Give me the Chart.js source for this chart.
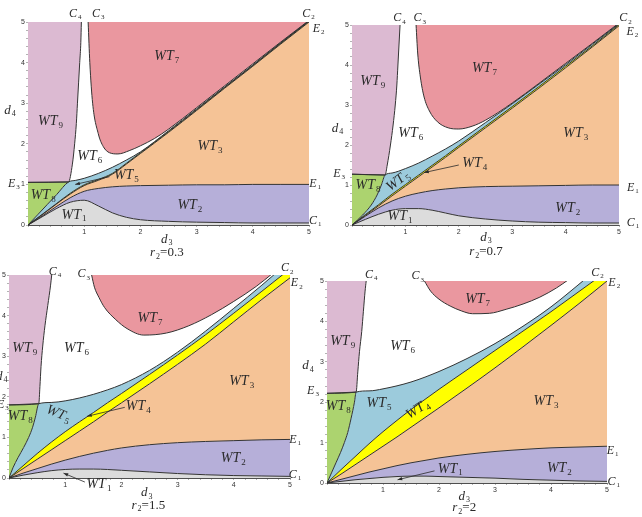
<!DOCTYPE html>
<html>
<head>
<meta charset="utf-8">
<script src="https://cdn.jsdelivr.net/npm/chart.js@4.4.1/dist/chart.umd.min.js"></script>
<style>
  body { margin: 0; background: #fff; }
  #wrap { position: relative; width: 642px; height: 517px; background: #fff; overflow: hidden; }
  canvas { position: absolute; }
</style>
</head>
<body>
<div id="wrap">
  <canvas id="p03" width="330" height="260" style="left:0;top:0"></canvas>
  <canvas id="p07" width="321" height="260" style="left:321px;top:0"></canvas>
  <canvas id="p15" width="321" height="259" style="left:0;top:258px"></canvas>
  <canvas id="p2" width="347" height="259" style="left:295px;top:258px"></canvas>
</div>
<script>
// d3 sample points shared by the curves that are functions of d3
const d3Grid = [0, 0.25, 0.5, 0.75, 1, 1.25, 1.5, 1.75, 2, 2.5, 3, 3.5, 4, 4.5, 5];

// ---- r2 = 0.3 ----
const c1_03 = [0, 0.2, 0.4, 0.56, 0.61, 0.47, 0.3, 0.19, 0.13, 0.09, 0.07, 0.06, 0.05, 0.05, 0.05];
const e1_03 = [0, 0.22, 0.45, 0.67, 0.83, 0.9, 0.94, 0.96, 0.97, 0.98, 0.99, 0.99, 1.0, 1.0, 1.0];
const e2_03 = [0, 0.25, 0.51, 0.76, 0.97, 1.1, 1.25, 1.5, 1.76, 2.28, 2.82, 3.37, 3.91, 4.46, 5];
const c2_03 = [0, 0.26, 0.52, 0.78, 0.99, 1.12, 1.27, 1.52, 1.78, 2.3, 2.84, 3.39, 3.93, 4.48, 5.02];
const c5x_03 = [0.72, 0.85, 1, 1.25, 1.5, 1.75, 2, 2.5, 3, 3.5, 4, 4.5, 5];
const c5_03 = [1.06, 1.1, 1.15, 1.27, 1.42, 1.6, 1.8, 2.32, 2.86, 3.4, 3.94, 4.49, 5.03];
const c3x_03 = [1.07, 1.1, 1.15, 1.25, 1.34, 1.45, 1.6, 1.8, 2, 2.25, 2.5, 3, 3.5, 4, 4.5, 5];
const c3_03 = [5, 4, 3, 2.25, 1.93, 1.78, 1.75, 1.83, 1.95, 2.13, 2.36, 2.89, 3.43, 3.97, 4.51, 5.04];
const c4d4_03 = [0, 0.25, 0.5, 0.75, 1.06, 1.5, 2, 2.5, 3, 3.5, 4, 4.5, 5];
const c4d3_03 = [0, 0.17, 0.34, 0.51, 0.72, 0.79, 0.83, 0.86, 0.88, 0.9, 0.92, 0.94, 0.95];
const e3x_03 = [0, 0.72];
const e3_03 = [1.05, 1.06];

// ---- r2 = 0.7 ----
const c1_07 = [0, 0.14, 0.27, 0.37, 0.41, 0.41, 0.37, 0.3, 0.23, 0.15, 0.1, 0.07, 0.06, 0.05, 0.05];
const e1_07 = [0, 0.22, 0.43, 0.6, 0.72, 0.8, 0.86, 0.9, 0.93, 0.96, 0.97, 0.98, 0.99, 1.0, 1.0];
const e2_07 = [0, 0.24, 0.48, 0.73, 0.97, 1.21, 1.45, 1.69, 1.94, 2.43, 2.92, 3.42, 3.93, 4.45, 4.98];
const c2_07 = [0, 0.26, 0.51, 0.77, 1.01, 1.25, 1.49, 1.73, 1.98, 2.47, 2.96, 3.46, 3.97, 4.48, 5.01];
const c5x_07 = [0.62, 0.75, 1, 1.25, 1.5, 1.75, 2, 2.5, 3, 3.5, 4, 4.5, 5];
const c5_07 = [1.25, 1.3, 1.41, 1.55, 1.72, 1.9, 2.1, 2.56, 3.03, 3.52, 4.01, 4.52, 5.03];
const c3x_07 = [1.2, 1.23, 1.28, 1.35, 1.45, 1.6, 1.8, 2, 2.25, 2.5, 3, 3.5, 4, 4.5, 5];
const c3_07 = [5, 4.3, 3.7, 3.2, 2.85, 2.58, 2.43, 2.4, 2.47, 2.62, 3.05, 3.54, 4.04, 4.54, 5.05];
const c4d4_07 = [0, 0.25, 0.5, 0.75, 1, 1.25, 1.5, 2, 2.5, 3, 3.5, 4, 4.5, 5];
const c4d3_07 = [0, 0.2, 0.36, 0.47, 0.55, 0.62, 0.66, 0.72, 0.77, 0.81, 0.84, 0.86, 0.88, 0.9];
const e3x_07 = [0, 0.62];
const e3_07 = [1.27, 1.25];

// ---- r2 = 1.5 ----
const c1_15 = [0, 0.07, 0.13, 0.18, 0.21, 0.22, 0.22, 0.21, 0.19, 0.15, 0.11, 0.08, 0.06, 0.05, 0.04];
const e1_15 = [0, 0.12, 0.23, 0.34, 0.44, 0.53, 0.61, 0.68, 0.74, 0.82, 0.87, 0.9, 0.92, 0.94, 0.95];
const e2_15 = [0, 0.23, 0.46, 0.69, 0.92, 1.15, 1.38, 1.62, 1.85, 2.32, 2.8, 3.3, 3.85, 4.4, 4.93];
const c2_15 = [0, 0.3, 0.6, 0.88, 1.14, 1.38, 1.61, 1.85, 2.08, 2.55, 3.03, 3.53, 4.06, 4.6, 5.15];
const c5x_15 = [0.53, 0.75, 1, 1.25, 1.5, 1.75, 2, 2.5, 3, 3.5, 4, 4.5, 5];
const c5_15 = [1.83, 1.86, 1.9, 1.97, 2.06, 2.17, 2.3, 2.65, 3.1, 3.62, 4.18, 4.75, 5.35];
const c3x_15 = [1.47, 1.52, 1.6, 1.7, 1.9, 2.1, 2.4, 2.8, 3.2, 3.6, 4.0, 4.4, 4.7];
const c3_15 = [5, 4.7, 4.45, 4.2, 3.9, 3.68, 3.52, 3.57, 3.75, 4.02, 4.35, 4.72, 5.05];
const c4d4_15 = [0, 0.25, 0.5, 0.75, 1, 1.25, 1.5, 1.83, 2.25, 2.75, 3.25, 3.75, 4.25, 4.75, 5];
const c4d3_15 = [0, 0.07, 0.16, 0.26, 0.35, 0.42, 0.47, 0.53, 0.55, 0.57, 0.6, 0.64, 0.69, 0.74, 0.76];
const e3x_15 = [0, 0.53];
const e3_15 = [1.8, 1.83];

// ---- r2 = 2 ----
const c1_2 = [0, 0.04, 0.08, 0.11, 0.14, 0.16, 0.17, 0.17, 0.16, 0.14, 0.12, 0.09, 0.07, 0.05, 0.04];
const e1_2 = [0, 0.09, 0.18, 0.27, 0.35, 0.43, 0.5, 0.56, 0.62, 0.71, 0.78, 0.83, 0.87, 0.89, 0.91];
const e2_2 = [0, 0.22, 0.45, 0.68, 0.91, 1.14, 1.38, 1.62, 1.86, 2.35, 2.85, 3.37, 3.9, 4.44, 5.0];
const c2_2 = [0, 0.33, 0.65, 0.97, 1.27, 1.55, 1.82, 2.07, 2.32, 2.8, 3.28, 3.76, 4.24, 4.74, 5.24];
const c5x_2 = [0.52, 0.75, 1, 1.5, 2, 2.5, 3, 3.5, 4, 4.5, 5];
const c5_2 = [2.25, 2.28, 2.33, 2.5, 2.76, 3.08, 3.45, 3.88, 4.36, 4.92, 5.5];
const c3x_2 = [1.74, 1.85, 2.0, 2.2, 2.4, 2.6, 2.9, 3.2, 3.5, 3.8, 4.1, 4.3];
const c3_2 = [5, 4.75, 4.55, 4.38, 4.26, 4.19, 4.2, 4.3, 4.43, 4.6, 4.83, 5.02];
const c4d4_2 = [0, 0.25, 0.5, 0.75, 1, 1.25, 1.6, 2, 2.25, 2.75, 3.25, 3.75, 4.25, 4.75, 5];
const c4d3_2 = [0, 0.08, 0.16, 0.24, 0.31, 0.37, 0.43, 0.49, 0.52, 0.55, 0.58, 0.62, 0.65, 0.68, 0.7];
const e3x_2 = [0, 0.52];
const e3_2 = [2.22, 2.25];

const COLORS = {
    wt1: '#dcdcdc', wt2: '#b6afd9', wt3: '#f5c396', wt4: '#ffff00',
    wt5: '#9ccbdc', wt7: '#ea979f', wt8: '#acd36f', wt9: '#dcbad2'
};
const INK = '#2a2a2a';

Chart.defaults.font.family = '"Liberation Sans", Arial, sans-serif';

function pts(xs, ys) {
    return xs.map((x, i) => ({ x: x, y: ys[i] }));
}

// one line per boundary, each filled down to the boundary below it
function buildDatasets(p) {
    const jy = p.e3y[p.e3y.length - 1];
    const c4 = pts(p.c4d3, p.c4d4);
    const lower = c4.filter(q => q.y <= jy);
    const upper = c4.filter(q => q.y > jy);
    const blueTop = lower.concat(pts(p.c5x, p.c5).slice(1));
    const pinkTop = pts(p.e3x, p.e3y).concat(upper);

    const line = (data, fill, color) => ({
        data: data,
        fill: fill,
        backgroundColor: color,
        borderColor: '#333',
        borderWidth: 1,
        pointRadius: 0,
        cubicInterpolationMode: 'monotone'
    });
    return [
        line(pts(d3Grid, p.c1), 'origin', COLORS.wt1),
        line(pts(d3Grid, p.e1), 0, COLORS.wt2),
        line(pts(d3Grid, p.e2), 1, COLORS.wt3),
        line(pts(d3Grid, p.c2), 2, COLORS.wt4),
        line(blueTop, 3, COLORS.wt5),
        line(pts(p.e3x, p.e3y), 4, COLORS.wt8),
        line(pinkTop, 'end', COLORS.wt9),
        line(pts(p.c3x, p.c3), 'end', COLORS.wt7)
    ];
}

// text made of parts: [text, 'i' italic | 's' subscript | 'n' normal]
function drawRich(ctx, parts, x, y, size, rot) {
    const fontOf = (k) => k === 'i' ? `italic ${size}px "Liberation Serif"`
        : k === 's' ? `${Math.round(size * 0.62)}px "Liberation Serif"`
        : `${size}px "Liberation Serif"`;
    let total = 0;
    const widths = parts.map(([t, k]) => {
        ctx.font = fontOf(k);
        const w = ctx.measureText(t).width + (k === 'i' ? 1 : 0);
        total += w;
        return w;
    });
    ctx.save();
    ctx.translate(x, y);
    if (rot) ctx.rotate(rot * Math.PI / 180);
    ctx.fillStyle = INK;
    ctx.textBaseline = 'middle';
    ctx.textAlign = 'left';
    let cx = -total / 2;
    parts.forEach(([t, k], i) => {
        ctx.font = fontOf(k);
        ctx.fillText(t, cx, k === 's' ? size * 0.3 : 0);
        cx += widths[i];
    });
    ctx.restore();
}

function drawArrow(ctx, x1, y1, x2, y2) {
    const a = Math.atan2(y2 - y1, x2 - x1);
    ctx.save();
    ctx.strokeStyle = INK;
    ctx.fillStyle = INK;
    ctx.lineWidth = 0.8;
    ctx.beginPath();
    ctx.moveTo(x1, y1);
    ctx.lineTo(x2, y2);
    ctx.stroke();
    ctx.beginPath();
    ctx.moveTo(x2, y2);
    ctx.lineTo(x2 - 5 * Math.cos(a - 0.35), y2 - 5 * Math.sin(a - 0.35));
    ctx.lineTo(x2 - 5 * Math.cos(a + 0.35), y2 - 5 * Math.sin(a + 0.35));
    ctx.closePath();
    ctx.fill();
    ctx.restore();
}

function textPlugin(ann) {
    return {
        id: 'regionText',
        afterDraw(chart) {
            const ctx = chart.ctx;
            const sx = chart.scales.x, sy = chart.scales.y;
            const px = (v) => sx.getPixelForValue(v);
            const py = (v) => sy.getPixelForValue(v);
            ann.regions.forEach(([sub, x, y, rot]) => {
                drawRich(ctx, [['WT', 'i'], [sub, 's']], px(x), py(y), 14, rot || 0);
            });
            ann.curves.forEach(([name, sub, x, y]) => {
                drawRich(ctx, [[name, 'i'], [sub, 's']], px(x), py(y), 12, 0);
            });
            ann.arrows.forEach(([x1, y1, x2, y2]) => {
                drawArrow(ctx, px(x1), py(y1), px(x2), py(y2));
            });
            drawRich(ctx, [['d', 'i'], ['3', 's']], px(ann.d3[0]), py(ann.d3[1]), 13, 0);
            drawRich(ctx, [['d', 'i'], ['4', 's']], px(ann.d4[0]), py(ann.d4[1]), 13, 0);
            drawRich(ctx, [['r', 'i'], ['2', 's'], ['=' + ann.r2[0], 'n']], px(ann.r2[1]), py(ann.r2[2]), 13, 0);
        }
    };
}

function isWhole(v) {
    return Math.abs(v - Math.round(v)) < 1e-6;
}

function makePanel(id, p, box, ann) {
    const ctx = document.getElementById(id).getContext('2d');
    return new Chart(ctx, {
        type: 'line',
        data: { datasets: buildDatasets(p) },
        options: {
            responsive: false,
            animation: false,
            devicePixelRatio: 1,
            layout: { padding: { left: box.l, top: box.t, right: box.r, bottom: box.b } },
            plugins: {
                legend: { display: false },
                tooltip: { enabled: false },
                filler: { drawTime: 'beforeDatasetsDraw' }
            },
            scales: {
                x: {
                    type: 'linear', min: 0, max: 5,
                    afterFit: (s) => { s.height = 12; },
                    ticks: {
                        stepSize: 0.2, autoSkip: false, maxRotation: 0, padding: 1,
                        color: '#333', font: { size: 7 },
                        callback: (v) => (isWhole(v) && v !== 0) ? String(Math.round(v)) : ''
                    },
                    grid: { drawOnChartArea: false, tickLength: 2, color: '#666', lineWidth: 0.5 },
                    border: { color: '#222', width: 0.8 }
                },
                y: {
                    type: 'linear', min: 0, max: 5,
                    afterFit: (s) => { s.width = box.yw; },
                    ticks: {
                        stepSize: 0.2, autoSkip: false, padding: 1,
                        color: '#333', font: { size: 7 },
                        callback: (v) => isWhole(v) ? String(Math.round(v)) : ''
                    },
                    grid: { drawOnChartArea: false, tickLength: 2, color: '#666', lineWidth: 0.5 },
                    border: { color: '#222', width: 0.8 }
                }
            }
        },
        plugins: [textPlugin(ann)]
    });
}

makePanel('p03', {
    c1: c1_03, e1: e1_03, e2: e2_03, c2: c2_03, c5x: c5x_03, c5: c5_03,
    c3x: c3x_03, c3: c3_03, c4d4: c4d4_03, c4d3: c4d3_03, e3x: e3x_03, e3y: e3_03
}, { l: 14, t: 22, r: 21, b: 23, yw: 14 }, {
    regions: [['7', 2.47, 4.15], ['9', 0.4, 2.55], ['6', 1.1, 1.68], ['3', 3.24, 1.93],
              ['5', 1.75, 1.23], ['8', 0.27, 0.74], ['1', 0.82, 0.25], ['2', 2.88, 0.49]],
    curves: [['C', '4', 0.84, 5.2], ['C', '3', 1.25, 5.2], ['C', '2', 4.99, 5.2], ['E', '2', 5.17, 4.84],
             ['E', '1', 5.11, 1.01], ['C', '1', 5.11, 0.1], ['E', '3', -0.25, 1.01]],
    arrows: [[1.45, 1.19, 0.84, 1.0]],
    d3: [2.47, -0.35], d4: [-0.32, 2.83], r2: ['0.3', 2.47, -0.68]
});

makePanel('p07', {
    c1: c1_07, e1: e1_07, e2: e2_07, c2: c2_07, c5x: c5x_07, c5: c5_07,
    c3x: c3x_07, c3: c3_07, c4d4: c4d4_07, c4d3: c4d3_07, e3x: e3x_07, e3y: e3_07
}, { l: 17, t: 25, r: 23, b: 23, yw: 14 }, {
    regions: [['7', 2.48, 3.92], ['9', 0.39, 3.58], ['6', 1.1, 2.29], ['3', 4.19, 2.29],
              ['4', 2.3, 1.54], ['5', 0.86, 1.1, -38], ['8', 0.3, 1.0], ['1', 0.9, 0.21], ['2', 4.04, 0.42]],
    curves: [['C', '4', 0.89, 5.17], ['C', '3', 1.27, 5.17], ['C', '2', 5.12, 5.17], ['E', '2', 5.25, 4.83],
             ['E', '1', 5.26, 0.94], ['C', '1', 5.26, 0.06], ['E', '3', -0.24, 1.28]],
    arrows: [[2.0, 1.5, 1.35, 1.31]],
    d3: [2.51, -0.31], d4: [-0.27, 2.42], r2: ['0.7', 2.51, -0.67]
});

makePanel('p15', {
    c1: c1_15, e1: e1_15, e2: e2_15, c2: c2_15, c5x: c5x_15, c5: c5_15,
    c3x: c3x_15, c3: c3_15, c4d4: c4d4_15, c4d3: c4d3_15, e3x: e3x_15, e3y: e3_15
}, { l: 0, t: 17, r: 31, b: 27, yw: 9 }, {
    regions: [['7', 2.51, 3.94], ['9', 0.28, 3.2], ['6', 1.2, 3.19], ['3', 4.14, 2.38],
              ['4', 2.3, 1.77], ['5', 0.88, 1.58, 22], ['8', 0.2, 1.52], ['1', 1.6, -0.16], ['2', 3.99, 0.49]],
    curves: [['C', '4', 0.82, 5.09], ['C', '3', 1.33, 5.02], ['C', '2', 4.95, 5.17], ['E', '2', 5.12, 4.8],
             ['E', '1', 5.09, 0.94], ['C', '1', 5.09, 0.08], ['E', '3', -0.11, 1.8]],
    arrows: [[2.06, 1.74, 1.39, 1.52], [1.35, -0.1, 0.97, 0.12]],
    d3: [2.45, -0.37], d4: [-0.13, 2.5], r2: ['1.5', 2.48, -0.67]
});

makePanel('p2', {
    c1: c1_2, e1: e1_2, e2: e2_2, c2: c2_2, c5x: c5x_2, c5: c5_2,
    c3x: c3x_2, c3: c3_2, c4d4: c4d4_2, c4d3: c4d3_2, e3x: e3x_2, e3y: e3_2
}, { l: 18, t: 23, r: 35, b: 22, yw: 14 }, {
    regions: [['7', 2.69, 4.54], ['9', 0.28, 3.51], ['6', 1.35, 3.38], ['5', 0.93, 1.98],
              ['8', 0.2, 1.9], ['4', 1.62, 1.82, -33], ['3', 3.91, 2.02], ['1', 2.2, 0.35], ['2', 4.15, 0.37]],
    curves: [['C', '4', 0.79, 5.16], ['C', '3', 1.62, 5.12], ['C', '2', 4.83, 5.2], ['E', '2', 5.13, 4.95],
             ['E', '1', 5.1, 0.8], ['C', '1', 5.12, 0.03], ['E', '3', -0.25, 2.28]],
    arrows: [[1.92, 0.3, 1.26, 0.08]],
    d3: [2.45, -0.33], d4: [-0.34, 2.9], r2: ['2', 2.45, -0.62]
});
</script>
</body>
</html>
